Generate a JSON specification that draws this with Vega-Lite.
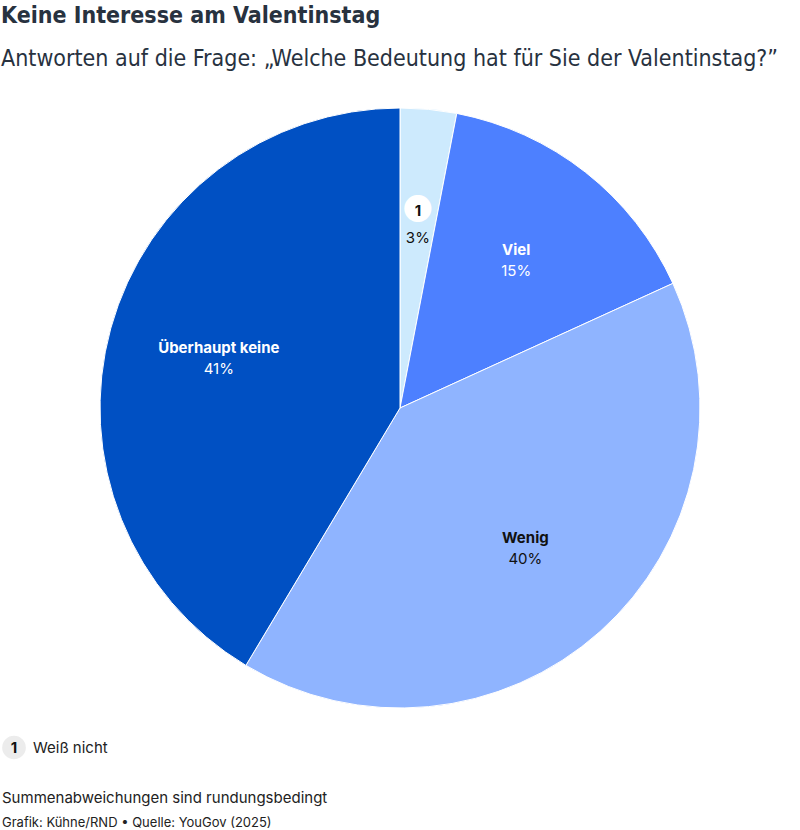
{
  "$schema": "https://vega.github.io/schema/vega-lite/v6.json",
  "padding": {"left": 0, "top": 5, "right": 0, "bottom": 0},
  "background": "white",
  "config": {"view": {"stroke": null}, "font": "Inter", "concat": {"spacing": 25}},
  "title": {
    "text": "Keine Interesse am Valentinstag",
    "subtitle": "Antworten auf die Frage: „Welche Bedeutung hat für Sie der Valentinstag?”",
    "anchor": "start",
    "font": "DejaVu Sans Condensed",
    "fontSize": 23,
    "fontWeight": "bold",
    "color": "#28323f",
    "subtitleFont": "DejaVu Sans Condensed",
    "subtitleFontSize": 23,
    "subtitleColor": "#28323f",
    "subtitlePadding": 20,
    "offset": 35,
    "dx": 1
  },
  "datasets": {
    "shares": [
      {"cat": "Weiß nicht", "share": 3, "label": "3%", "ord": 1},
      {"cat": "Viel", "share": 15, "label": "15%", "ord": 2},
      {"cat": "Wenig", "share": 40, "label": "40%", "ord": 3},
      {"cat": "Überhaupt keine", "share": 41, "label": "41%", "ord": 4}
    ],
    "notes": [
      {"line": "legend", "text": "Weiß nicht"},
      {"line": "note", "text": "Summenabweichungen sind rundungsbedingt"},
      {"line": "source", "text": "Grafik: Kühne/RND • Quelle: YouGov (2025)"}
    ]
  },
  "vconcat": [
    {
      "width": 800,
      "height": 600,
      "data": {"name": "shares"},
      "encoding": {
        "theta": {"field": "share", "type": "quantitative", "stack": true},
        "order": {"field": "ord", "type": "quantitative"}
      },
      "layer": [
        {
          "mark": {"type": "arc", "outerRadius": 300, "stroke": "white", "strokeWidth": 1},
          "encoding": {
            "color": {
              "field": "cat", "type": "nominal", "legend": null,
              "scale": {
                "domain": ["Weiß nicht", "Viel", "Wenig", "Überhaupt keine"],
                "range": ["#cdeafd", "#4d80ff", "#8fb4ff", "#0050c3"]
              }
            }
          }
        },
        {
          "mark": {"type": "text", "radius": 188, "dy": -10, "fontSize": 30, "font": "Noto Sans CJK JP", "baseline": "middle", "color": "white"},
          "encoding": {
            "text": {"condition": {"test": "datum.cat === 'Weiß nicht'", "value": "●"}, "value": ""}
          }
        },
        {
          "mark": {"type": "text", "radius": 188, "dy": -10, "fontSize": 15, "fontWeight": "bold", "baseline": "middle", "color": "#111111"},
          "encoding": {
            "text": {"condition": {"test": "datum.cat === 'Weiß nicht'", "value": "1"}, "value": ""}
          }
        },
        {
          "mark": {"type": "text", "radius": 188, "dy": 17, "fontSize": 15, "baseline": "middle", "color": "#111111"},
          "encoding": {
            "text": {"condition": {"test": "datum.cat === 'Weiß nicht'", "field": "label"}, "value": ""}
          }
        },
        {
          "mark": {"type": "text", "radius": 188, "dy": -10, "fontSize": 15, "fontWeight": "bold", "baseline": "middle"},
          "encoding": {
            "text": {"condition": {"test": "datum.cat !== 'Weiß nicht'", "field": "cat"}, "value": ""},
            "color": {"condition": {"test": "datum.cat === 'Wenig'", "value": "#111111"}, "value": "white"}
          }
        },
        {
          "mark": {"type": "text", "radius": 188, "dy": 11, "fontSize": 15, "baseline": "middle"},
          "encoding": {
            "text": {"condition": {"test": "datum.cat !== 'Weiß nicht'", "field": "label"}, "value": ""},
            "color": {"condition": {"test": "datum.cat === 'Wenig'", "value": "#111111"}, "value": "white"}
          }
        }
      ]
    },
    {
      "width": 800,
      "height": 100,
      "data": {"name": "notes"},
      "encoding": {
        "y": {"field": "line", "type": "nominal", "axis": null,
              "scale": {"type": "point", "domain": ["legend", "gap", "note", "source"], "padding": 0.5}}
      },
      "layer": [
        {
          "transform": [{"filter": "datum.line === 'legend'"}],
          "mark": {"type": "point", "shape": "circle", "filled": true, "size": 560, "color": "#ececec", "opacity": 1},
          "encoding": {"x": {"value": 14}}
        },
        {
          "transform": [{"filter": "datum.line === 'legend'"}],
          "mark": {"type": "text", "fontSize": 15, "fontWeight": "bold", "color": "#111111", "baseline": "middle", "align": "center", "text": "1"},
          "encoding": {"x": {"value": 14}}
        },
        {
          "transform": [{"filter": "datum.line === 'legend'"}],
          "mark": {"type": "text", "fontSize": 15, "color": "#222222", "baseline": "middle", "align": "left"},
          "encoding": {"x": {"value": 33}, "text": {"field": "text"}}
        },
        {
          "transform": [{"filter": "datum.line === 'note'"}],
          "mark": {"type": "text", "fontSize": 15, "color": "#222222", "baseline": "middle", "align": "left"},
          "encoding": {"x": {"value": 2}, "text": {"field": "text"}}
        },
        {
          "transform": [{"filter": "datum.line === 'source'"}],
          "mark": {"type": "text", "fontSize": 13, "color": "#222222", "baseline": "middle", "align": "left"},
          "encoding": {"x": {"value": 2}, "text": {"field": "text"}}
        }
      ]
    }
  ]
}
